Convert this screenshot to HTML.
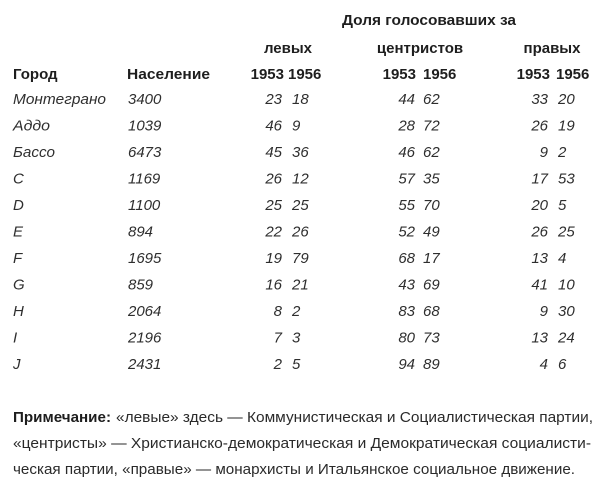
<!DOCTYPE html>
<html>
<head>
<meta charset="utf-8">
<style>
html,body{margin:0;padding:0;background:#fff;}
svg{display:block;}
text{font-family:"Liberation Sans","DejaVu Sans",sans-serif;font-size:15px;}
.h{font-weight:bold;fill:#1e1e1e;}
.d{font-style:italic;fill:#2e2e2e;}
.n{fill:#2a2a2a;}
</style>
</head>
<body>
<svg width="600" height="484" viewBox="0 0 600 484" xmlns="http://www.w3.org/2000/svg">
<rect width="600" height="484" fill="#fff"/>

<!-- group headers -->
<text class="h" x="429" y="25" text-anchor="middle" textLength="174" lengthAdjust="spacingAndGlyphs">Доля голосовавших за</text>
<text class="h" x="288" y="53" text-anchor="middle">левых</text>
<text class="h" x="420" y="53" text-anchor="middle">центристов</text>
<text class="h" x="552" y="53" text-anchor="middle">правых</text>

<!-- column headers -->
<text class="h" x="13" y="79">Город</text>
<text class="h" x="127" y="79" textLength="83" lengthAdjust="spacingAndGlyphs">Население</text>
<text class="h" x="284" y="79" text-anchor="end">1953</text>
<text class="h" x="288" y="79">1956</text>
<text class="h" x="416" y="79" text-anchor="end">1953</text>
<text class="h" x="423" y="79">1956</text>
<text class="h" x="550" y="79" text-anchor="end">1953</text>
<text class="h" x="556" y="79">1956</text>

<!-- data rows -->
<g class="d">
<text x="13" y="104" textLength="93" lengthAdjust="spacingAndGlyphs">Монтеграно</text>
<text x="128" y="104">3400</text>
<text x="282" y="104" text-anchor="end">23</text><text x="292" y="104">18</text>
<text x="415" y="104" text-anchor="end">44</text><text x="423" y="104">62</text>
<text x="548" y="104" text-anchor="end">33</text><text x="558" y="104">20</text>

<text x="13" y="130.5" textLength="37" lengthAdjust="spacingAndGlyphs">Аддо</text>
<text x="128" y="130.5">1039</text>
<text x="282" y="130.5" text-anchor="end">46</text><text x="292" y="130.5">9</text>
<text x="415" y="130.5" text-anchor="end">28</text><text x="423" y="130.5">72</text>
<text x="548" y="130.5" text-anchor="end">26</text><text x="558" y="130.5">19</text>

<text x="13" y="157" textLength="42" lengthAdjust="spacingAndGlyphs">Бассо</text>
<text x="128" y="157">6473</text>
<text x="282" y="157" text-anchor="end">45</text><text x="292" y="157">36</text>
<text x="415" y="157" text-anchor="end">46</text><text x="423" y="157">62</text>
<text x="548" y="157" text-anchor="end">9</text><text x="558" y="157">2</text>

<text x="13" y="183.5">C</text>
<text x="128" y="183.5">1169</text>
<text x="282" y="183.5" text-anchor="end">26</text><text x="292" y="183.5">12</text>
<text x="415" y="183.5" text-anchor="end">57</text><text x="423" y="183.5">35</text>
<text x="548" y="183.5" text-anchor="end">17</text><text x="558" y="183.5">53</text>

<text x="13" y="210">D</text>
<text x="128" y="210">1100</text>
<text x="282" y="210" text-anchor="end">25</text><text x="292" y="210">25</text>
<text x="415" y="210" text-anchor="end">55</text><text x="423" y="210">70</text>
<text x="548" y="210" text-anchor="end">20</text><text x="558" y="210">5</text>

<text x="13" y="236.5">E</text>
<text x="128" y="236.5">894</text>
<text x="282" y="236.5" text-anchor="end">22</text><text x="292" y="236.5">26</text>
<text x="415" y="236.5" text-anchor="end">52</text><text x="423" y="236.5">49</text>
<text x="548" y="236.5" text-anchor="end">26</text><text x="558" y="236.5">25</text>

<text x="13" y="263">F</text>
<text x="128" y="263">1695</text>
<text x="282" y="263" text-anchor="end">19</text><text x="292" y="263">79</text>
<text x="415" y="263" text-anchor="end">68</text><text x="423" y="263">17</text>
<text x="548" y="263" text-anchor="end">13</text><text x="558" y="263">4</text>

<text x="13" y="289.5">G</text>
<text x="128" y="289.5">859</text>
<text x="282" y="289.5" text-anchor="end">16</text><text x="292" y="289.5">21</text>
<text x="415" y="289.5" text-anchor="end">43</text><text x="423" y="289.5">69</text>
<text x="548" y="289.5" text-anchor="end">41</text><text x="558" y="289.5">10</text>

<text x="13" y="316">H</text>
<text x="128" y="316">2064</text>
<text x="282" y="316" text-anchor="end">8</text><text x="292" y="316">2</text>
<text x="415" y="316" text-anchor="end">83</text><text x="423" y="316">68</text>
<text x="548" y="316" text-anchor="end">9</text><text x="558" y="316">30</text>

<text x="13" y="342.5">I</text>
<text x="128" y="342.5">2196</text>
<text x="282" y="342.5" text-anchor="end">7</text><text x="292" y="342.5">3</text>
<text x="415" y="342.5" text-anchor="end">80</text><text x="423" y="342.5">73</text>
<text x="548" y="342.5" text-anchor="end">13</text><text x="558" y="342.5">24</text>

<text x="13" y="369">J</text>
<text x="128" y="369">2431</text>
<text x="282" y="369" text-anchor="end">2</text><text x="292" y="369">5</text>
<text x="415" y="369" text-anchor="end">94</text><text x="423" y="369">89</text>
<text x="548" y="369" text-anchor="end">4</text><text x="558" y="369">6</text>
</g>

<!-- note -->
<text class="h" x="13" y="422" textLength="98" lengthAdjust="spacingAndGlyphs">Примечание:</text>
<text class="n" x="116" y="422" textLength="477" lengthAdjust="spacingAndGlyphs">«левые» здесь — Коммунистическая и Социалистическая партии,</text>
<text class="n" x="13" y="448" textLength="578" lengthAdjust="spacingAndGlyphs">«центристы» — Христианско-демократическая и Демократическая социалисти-</text>
<text class="n" x="13" y="474" textLength="562" lengthAdjust="spacingAndGlyphs">ческая партии, «правые» — монархисты и Итальянское социальное движение.</text>
</svg>
</body>
</html>
